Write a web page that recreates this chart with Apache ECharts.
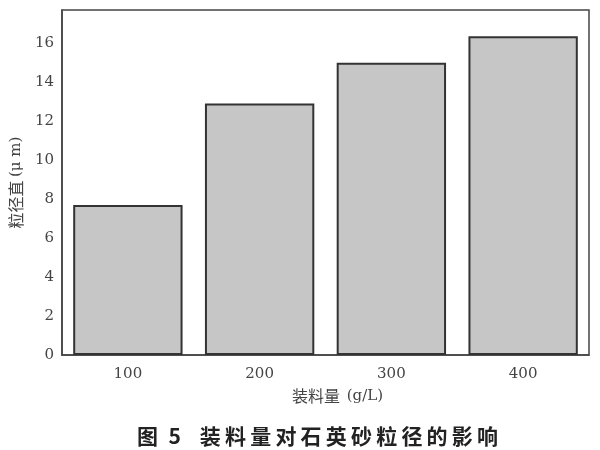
<!DOCTYPE html>
<html><head><meta charset="utf-8">
<script src="https://cdn.jsdelivr.net/npm/echarts@6/dist/echarts.min.js"></script>
<style>html,body{margin:0;padding:0;background:#fff}#c{width:600px;height:450px}</style>
</head><body><div id="c"></div>
<script>
const categories = ['100', '200', '300', '400'];
const values = [7.7, 12.9, 15.0, 16.35];
const yTicks = [0, 2, 4, 6, 8, 10, 12, 14, 16];
const titlePrefix = '图\u20025\u2002\u2009\u2009';
const titleBody = '装料量对石英砂粒径的影响';

const sp = s => s.split('').join('\u2009');
const chart = echarts.init(document.getElementById('c'), null, {renderer: 'canvas'});
chart.setOption({
  backgroundColor: '#fff',
  animation: false,
  title: {
    text: titlePrefix + sp(titleBody),
    left: 132, top: 421,
    textStyle: {fontFamily: 'Noto Sans CJK SC', fontWeight: 'bold', fontSize: 21, color: '#222'}
  },
  grid: {left: 62, right: 11, top: 10, bottom: 95, show: true, borderColor: '#444', borderWidth: 1.5,
    backgroundColor: 'transparent', containLabel: false, outerBoundsMode: 'none'},
  xAxis: {
    type: 'category', data: categories,
    name: '{a|装料量}  {b|(g/L)}', nameLocation: 'middle', nameGap: 33,
    nameTextStyle: {
      padding: [0, 0, 0, 24],
      rich: {
        a: {fontFamily: 'Noto Sans CJK SC', fontSize: 16, color: '#444'},
        b: {fontFamily: 'DejaVu Serif', fontSize: 15, color: '#444'}
      }
    },
    axisLine: {lineStyle: {color: '#444', width: 1.5}},
    axisTick: {show: false},
    axisLabel: {fontFamily: 'DejaVu Serif', fontSize: 15, color: '#444', margin: 12}
  },
  yAxis: {
    type: 'value', min: 0, max: 17.7, interval: 2,
    name: '{a|粒径直} {b|(μ m)}', nameLocation: 'middle', nameGap: 37, nameRotate: 90,
    nameTextStyle: {
      rich: {
        a: {fontFamily: 'Noto Sans CJK SC', fontSize: 16, color: '#444'},
        b: {fontFamily: 'DejaVu Serif', fontSize: 15, color: '#444'}
      }
    },
    axisLine: {show: true, lineStyle: {color: '#444', width: 1.5}},
    axisTick: {show: false},
    splitLine: {show: false},
    axisLabel: {fontFamily: 'DejaVu Serif', fontSize: 15, color: '#444', margin: 8,
      formatter: v => yTicks.includes(v) ? String(v) : ''}
  },
  series: [{
    type: 'bar', data: values, barCategoryGap: '17%',
    itemStyle: {color: '#c6c6c6', borderColor: '#333', borderWidth: 2}
  }]
});
</script></body></html>
